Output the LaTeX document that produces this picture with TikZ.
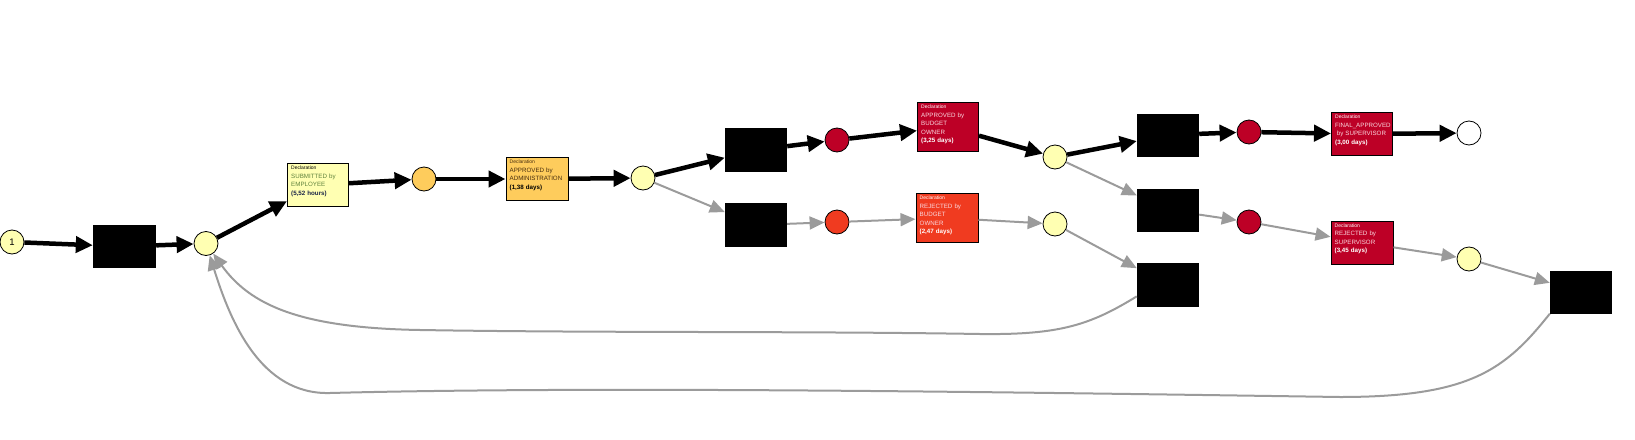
\documentclass[tikz,border=0pt]{standalone}
\usepackage{fontspec}
\setmainfont{Liberation Sans}
\usetikzlibrary{arrows.meta}
\definecolor{cyel}{HTML}{FFFFB2}
\definecolor{corg}{HTML}{FECC5C}
\definecolor{cred}{HTML}{BD0026}
\definecolor{cord}{HTML}{F03B20}
\definecolor{gcol}{RGB}{155,155,155}
\definecolor{tgreen}{RGB}{95,130,60}
\definecolor{tnavy}{RGB}{25,35,70}
\definecolor{tbrown}{RGB}{70,45,15}
\definecolor{tpink}{RGB}{250,215,222}
\begin{document}
\begin{tikzpicture}[x=1pt,y=-1pt,
  place/.style={circle, draw=black, line width=0.8pt, minimum size=24pt, inner sep=0pt},
  trans/.style={rectangle, fill=black, minimum width=62pt, minimum height=43pt, inner sep=0pt},
  act/.style={rectangle, draw=black, line width=1pt, minimum width=61pt, minimum height=43pt, inner sep=0pt},
  boxtext/.style={anchor=north west, inner sep=0pt, text width=58pt, align=left, font=\fontsize{6.2}{8.5}\selectfont},
  blk/.style={draw=black, line width=4.5pt, -{Triangle[length=17pt,width=16pt]}},
  gry/.style={draw=gcol, line width=2pt, -{Triangle[length=15pt,width=13pt]}}
]
\useasboundingbox (0,0) rectangle (1635,439);

% places
\node[place, fill=cyel, font=\fontsize{9.5}{9.5}\selectfont] (p1) at (12,242) {1};
\node[place, fill=cyel] (p2) at (206,243.5) {};
\node[place, fill=corg] (p3) at (424,179) {};
\node[place, fill=cyel] (p4) at (643,178) {};
\node[place, fill=cred] (p5) at (837,140) {};
\node[place, fill=cord] (p6) at (837,222) {};
\node[place, fill=cyel] (p7) at (1055,157) {};
\node[place, fill=cyel] (p8) at (1055,224) {};
\node[place, fill=cred] (p9) at (1249,132) {};
\node[place, fill=cred] (p10) at (1249,222) {};
\node[place, fill=white] (p11) at (1469,133) {};
\node[place, fill=cyel] (p12) at (1469,259) {};

% transitions
\node[trans, minimum width=63pt] (t1) at (124.5,246.5) {};
\node[trans, minimum height=44pt] (t2) at (756,150) {};
\node[trans, minimum height=44pt] (t3) at (756,225) {};
\node[trans] (t4) at (1168,135) {};
\node[trans] (t5) at (1168,210) {};
\node[trans, minimum height=44pt] (t6) at (1168,285) {};
\node[trans] (t7) at (1581,292) {};

% activity boxes
\node[act, fill=cyel] (b1) at (318,185) {};
\node[boxtext] (b1t) at ([shift={(4,3)}]b1.north west) {{\fontsize{5}{8.5}\selectfont Declaration}\\\textcolor{tgreen}{SUBMITTED by}\\\textcolor{tgreen}{EMPLOYEE}\\\textcolor{tnavy}{\textbf{(5,52 hours)}}};

\node[act, fill=corg, minimum width=62pt] (b2) at (537,179) {};
\node[boxtext] (b2t) at ([shift={(4,3)}]b2.north west) {{\fontsize{5}{8.5}\selectfont\color{tbrown}Declaration}\\\textcolor{tbrown}{APPROVED by}\\\textcolor{tbrown}{ADMINISTRATION}\\\textbf{(1,38 days)}};

\node[act, fill=cred, minimum height=49pt] (b3) at (948,127) {};
\node[boxtext] (b3t) at ([shift={(4,3)}]b3.north west) {{\fontsize{5}{8.5}\selectfont\color{white}Declaration}\\\textcolor{tpink}{APPROVED by}\\\textcolor{tpink}{BUDGET}\\\textcolor{tpink}{OWNER}\\\textcolor{white}{\textbf{(3,25 days)}}};

\node[act, fill=cord, minimum width=62pt, minimum height=49pt] (b4) at (947,218) {};
\node[boxtext] (b4t) at ([shift={(4,3)}]b4.north west) {{\fontsize{5}{8.5}\selectfont\color{white}Declaration}\\\textcolor{tpink}{REJECTED by}\\\textcolor{tpink}{BUDGET}\\\textcolor{tpink}{OWNER}\\\textcolor{white}{\textbf{(2,47 days)}}};

\node[act, fill=cred] (b5) at (1362,134) {};
\node[boxtext] (b5t) at ([shift={(4,3)}]b5.north west) {{\fontsize{5}{8.5}\selectfont\color{white}Declaration}\\\textcolor{tpink}{FINAL\_APPROVED}\\\hspace*{1.6pt}\textcolor{tpink}{by SUPERVISOR}\\\textcolor{white}{\textbf{(3,00 days)}}};

\node[act, fill=cred, minimum width=62pt] (b6) at (1362,242.5) {};
\node[boxtext] (b6t) at ([shift={(4,3)}]b6.north west) {{\fontsize{5}{8.5}\selectfont\color{white}Declaration}\\\textcolor{tpink}{REJECTED by}\\\textcolor{tpink}{SUPERVISOR}\\\textcolor{white}{\textbf{(3,45 days)}}};

% black (main) arcs
\draw[blk] (p1) -- (t1);
\draw[blk] (t1) -- (p2);
\draw[blk] (p2) -- (b1);
\draw[blk] (b1) -- (p3);
\draw[blk] (p3) -- (b2);
\draw[blk] (b2) -- (p4);
\draw[blk] (p4) -- (t2);
\draw[blk] (t2) -- (p5);
\draw[blk] (p5) -- (b3);
\draw[blk] (b3) -- (p7);
\draw[blk] (p7) -- (t4);
\draw[blk] (t4) -- (p9);
\draw[blk] (p9) -- (b5);
\draw[blk] (b5) -- (p11);

% gray arcs
\draw[gry] (p4) -- (t3);
\draw[gry] (t3) -- (p6);
\draw[gry] (p6) -- (b4);
\draw[gry] (b4) -- (p8);
\draw[gry] (p8) -- (t6);
\draw[gry] (p7) -- (t5);
\draw[gry] (t5) -- (p10);
\draw[gry] (p10) -- (b6);
\draw[gry] (b6) -- (p12);
\draw[gry] (p12) -- (t7);

% loops back
\draw[gry] (t6.200) .. controls (1090,325) and (1060,335) .. (980,334)
  .. controls (800,331) and (600,333) .. (420,330)
  .. controls (300,328) and (250,305) .. (p2);
\draw[gry] (t7.south west) .. controls (1505,370) and (1470,397) .. (1340,397)
  .. controls (1000,392) and (600,386) .. (330,393)
  .. controls (260,395) and (230,320) .. (p2);
\end{tikzpicture}
\end{document}
